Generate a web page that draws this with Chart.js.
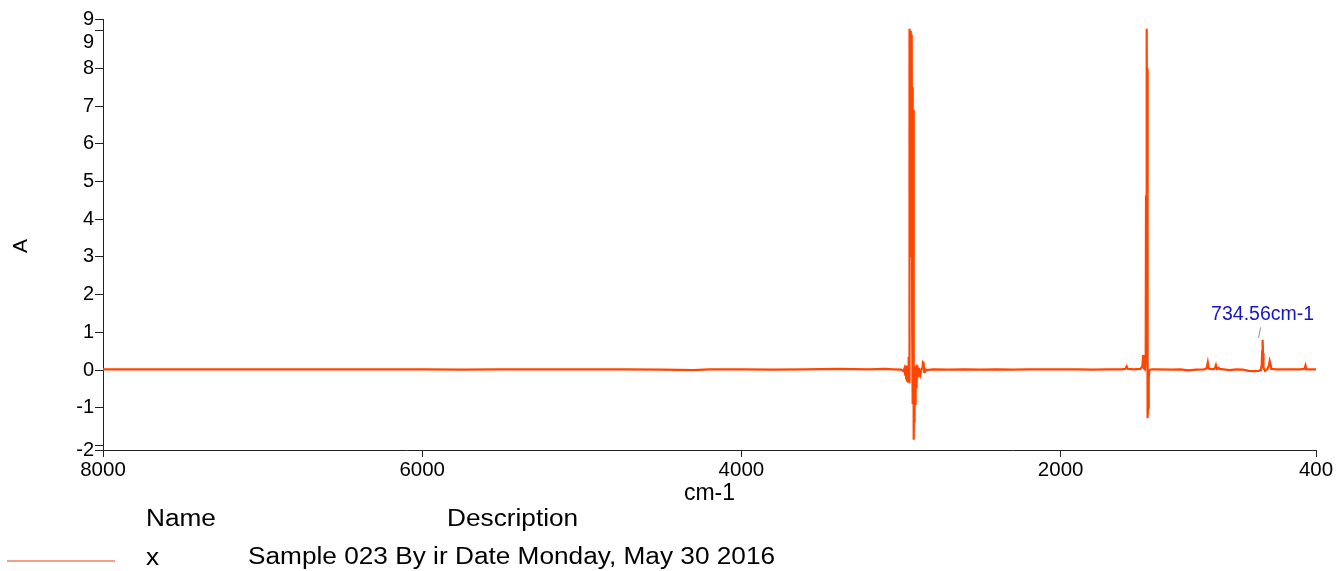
<!DOCTYPE html>
<html>
<head>
<meta charset="utf-8">
<title>Spectre IR</title>
<script src="https://cdn.jsdelivr.net/npm/chart.js@4.4.1/dist/chart.umd.min.js"></script>
<style>
  body { margin: 0; background: #fff; }
  canvas { display: block; }
</style>
</head>
<body>
<canvas id="spectre" width="1336" height="571"></canvas>
<script>
// nombres d'onde (cm-1) et absorbance
const wavenumbers = [
  8000, 7750, 7500, 7250, 7000, 6750, 6500, 6250, 6000, 5750, 5500, 5250, 5000, 4750, 4500, 4300, 4200, 4000,
  3800, 3600, 3400, 3200, 3100, 3050, 3000,
  2985, 2978, 2974, 2971, 2968, 2965, 2962, 2959, 2956, 2953, 2952, 2951, 2950, 2949, 2948, 2947,
  2946, 2944, 2942, 2940, 2938, 2936, 2934, 2932, 2930, 2928, 2926, 2924, 2922, 2921, 2920, 2919, 2918,
  2917, 2916, 2915, 2913, 2912, 2910, 2909, 2907, 2905, 2903, 2901, 2899, 2897, 2894, 2891, 2888, 2885,
  2882, 2878, 2872, 2866, 2862, 2858, 2855, 2850, 2840, 2800, 2700, 2600, 2500, 2400, 2300, 2200,
  2100, 2000, 1900, 1800, 1700, 1620,
  1595, 1586, 1578, 1540, 1500, 1488, 1483, 1479, 1472, 1467, 1465, 1463, 1461, 1460, 1459, 1458, 1457,
  1456, 1455, 1454, 1453, 1451, 1448,
  1444, 1430, 1400, 1300, 1250, 1200, 1150, 1100, 1085, 1078, 1072, 1050, 1034, 1027, 1021, 1010, 1005, 980,
  940, 900, 860, 820, 790, 760, 745, 740, 737, 734.56, 732, 729, 720, 705, 695, 690, 686, 680, 650, 600, 550,
  500, 472, 466, 460, 420, 400
];
const absorbance = [
  0.02, 0.02, 0.02, 0.02, 0.02, 0.02, 0.02, 0.02, 0.02, 0.01, 0.02, 0.02, 0.02, 0.02, 0.01, 0.0, 0.02, 0.02,
  0.01, 0.02, 0.03, 0.02, 0.03, 0.02, 0.01,
  -0.03, 0.05, -0.12, 0.1, -0.22, 0.12, -0.28, 0.1, -0.3, 0.08, 0.35, -0.3, 0.3, -0.35, 0.4, -0.3,
  2.0, 9.05, 6.0, 9.0, 5.0, 8.9, 3.0, 8.6, 1.0, 7.5, -0.9, 6.9, -1.2, 1.2, -1.0, -1.85, -0.6,
  -1.4, -0.3, -1.1, -0.4, -0.9, -0.2, -0.6, 0.1, -0.45, 0.15, -0.3, 0.1, -0.2, 0.05, -0.15, 0.05, -0.08,
  0.0, -0.1, 0.02, 0.05, 0.2, 0.18, -0.05, 0.03, 0.0, 0.02, 0.01, 0.02, 0.01, 0.02, 0.01, 0.02,
  0.02, 0.02, 0.02, 0.01, 0.02, 0.02,
  0.03, 0.1, 0.03, 0.02, 0.03, 0.1, 0.4, 0.05, 0.02, 0.3, 4.6, 8.0, 9.05, 4.7, 8.8, 4.6, 8.0,
  -0.6, -1.27, -0.4, -1.2, -1.0, -0.2,
  0.0, 0.02, 0.02, 0.01, 0.02, -0.01, 0.01, 0.02, 0.05, 0.2, 0.04, 0.02, 0.04, 0.13, 0.03, 0.06, 0.03, 0.02,
  0.0, 0.02, 0.01, -0.02, -0.03, -0.02, 0.0, 0.15, 0.5, 0.8, 0.45, 0.06, -0.02, 0.02, 0.12, 0.24, 0.18, 0.03, 0.02, 0.02, 0.02,
  0.02, 0.03, 0.12, 0.02, 0.02, 0.02
];

const xTicks = [8000, 6000, 4000, 2000, 400];
const yTicks = [-2.12, -2, -1, 0, 1, 2, 3, 4, 5, 6, 7, 8, 9, 9.31];

const peakLabel = { wn: 734.56, a: 0.8, text: '734.56cm-1' };
const legendName = 'x';
const legendDesc = 'Sample 023 By ir Date Monday, May 30 2016';

const FONT = "'Liberation Sans', Arial, sans-serif";
const lineColor = '#ff4500';
const axisColor = '#222';

// libellés de l'axe y : le min/max sont arrondis, le 9 entier décalé vers le bas
function yLabel(v) {
  if (v === 9.31) return '9';
  if (v === 9) return ['', '9'];
  if (v === -2.12) return '-2';
  if (v === -2) return '';
  return String(v);
}

// texte un peu étiré en largeur comme sur l'original
function wideText(ctx, txt, x, y, sx) {
  ctx.save();
  ctx.translate(x, y);
  ctx.scale(sx, 1);
  ctx.fillText(txt, 0, 0);
  ctx.restore();
}

// annotation du pic + titre A + légende en bas
const extras = {
  id: 'extras',
  afterDatasetsDraw(chart) {
    const { ctx, scales } = chart;
    const px = scales.x.getPixelForValue(peakLabel.wn);
    ctx.save();
    ctx.strokeStyle = '#8890b8';
    ctx.lineWidth = 1;
    ctx.beginPath();
    ctx.moveTo(px - 4, scales.y.getPixelForValue(peakLabel.a + 0.05));
    ctx.lineTo(px - 2, scales.y.getPixelForValue(peakLabel.a + 0.33));
    ctx.stroke();
    ctx.fillStyle = '#1414c8';
    ctx.font = '19.5px ' + FONT;
    ctx.textAlign = 'center';
    ctx.textBaseline = 'middle';
    ctx.fillText(peakLabel.text, px, scales.y.getPixelForValue(peakLabel.a + 0.66));
    ctx.restore();
  },
  afterDraw(chart) {
    const ctx = chart.ctx;
    ctx.save();
    ctx.fillStyle = '#000';
    ctx.textBaseline = 'middle';

    // titre de l'axe y
    ctx.save();
    ctx.font = '21px ' + FONT;
    ctx.textAlign = 'center';
    ctx.translate(21, 246);
    ctx.rotate(-Math.PI / 2);
    ctx.fillText('A', 0, 0);
    ctx.restore();

    ctx.font = '23px ' + FONT;
    ctx.textAlign = 'left';
    wideText(ctx, 'Name', 146, 520, 1.14);
    wideText(ctx, 'Description', 447, 520, 1.14);
    wideText(ctx, legendName, 146, 559, 1.14);
    wideText(ctx, legendDesc, 248, 558, 1.14);
    ctx.strokeStyle = '#f5a088';
    ctx.lineWidth = 2;
    ctx.beginPath();
    ctx.moveTo(7, 561);
    ctx.lineTo(115, 561);
    ctx.stroke();
    ctx.restore();
  }
};

new Chart(document.getElementById('spectre'), {
  type: 'line',
  data: {
    datasets: [{
      label: legendName,
      data: wavenumbers.map((w, i) => ({ x: w, y: absorbance[i] })),
      borderColor: lineColor,
      borderWidth: 2.2,
      pointRadius: 0,
      tension: 0,
      fill: false
    }]
  },
  options: {
    responsive: false,
    animation: false,
    events: [],
    layout: { padding: { left: 0, right: 20, top: 19, bottom: 61 } },
    plugins: { legend: { display: false }, tooltip: { enabled: false } },
    scales: {
      x: {
        type: 'linear',
        reverse: true,
        min: 400,
        max: 8000,
        afterBuildTicks: s => { s.ticks = xTicks.map(v => ({ value: v })); },
        afterFit: s => { s.height = 60; },
        ticks: {
          autoSkip: false, maxRotation: 0, padding: 1, color: '#000',
          font: { family: FONT, size: 20.5 },
          callback: v => String(v)
        },
        grid: { drawOnChartArea: false, drawTicks: true, tickLength: 7, color: axisColor },
        border: { color: axisColor, width: 1 },
        title: {
          display: true, text: 'cm-1', color: '#000',
          font: { family: FONT, size: 23 }, padding: { top: 0, bottom: 3 }
        }
      },
      y: {
        type: 'linear',
        min: -2.12,
        max: 9.31,
        afterBuildTicks: s => { s.ticks = yTicks.map(v => ({ value: v })); },
        afterFit: s => { s.width = 103; },
        ticks: {
          autoSkip: false, padding: 1, color: '#000',
          font: { family: FONT, size: 20 },
          callback: v => yLabel(v)
        },
        grid: { drawOnChartArea: false, drawTicks: true, tickLength: 8, color: axisColor },
        border: { color: axisColor, width: 1 },
        title: { display: false }
      }
    }
  },
  plugins: [extras]
});
</script>
</body>
</html>
